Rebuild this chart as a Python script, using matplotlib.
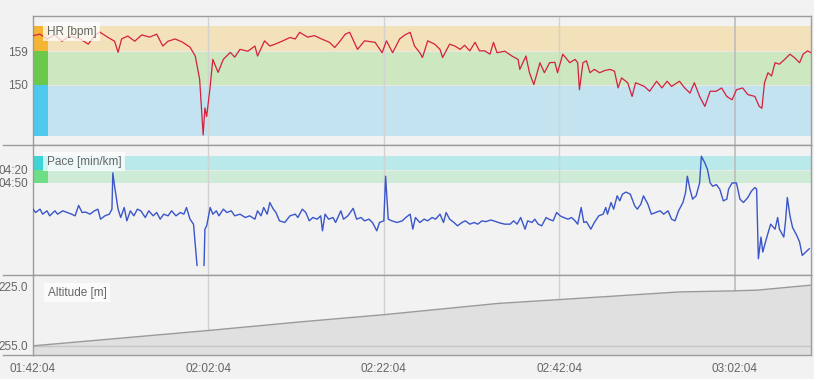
import numpy as np
import matplotlib.pyplot as plt
from matplotlib.lines import Line2D

plt.rcParams['font.family'] = ['Liberation Sans', 'DejaVu Sans']

## time axis (elapsed minutes, labelled with clock time)
t_end = 88.7
time_ticks = [0, 20, 40, 60, 80]
time_labels = ['01:42:04', '02:02:04', '02:22:04', '02:42:04', '03:02:04']

## heart rate (minute, bpm)
hr_points = [
    (0.0, 163.2), (0.8, 163.6), (1.6, 162.3), (2.5, 163.4), (3.3, 161.7), (4.2, 163.1), (5.4, 162.3),
    (6.3, 160.9), (7.1, 163.4), (7.6, 164.2), (8.5, 162.8), (9.3, 161.7), (9.7, 158.7), (10.1, 162.3),
    (10.8, 163.1), (11.6, 161.7), (12.4, 163.4), (13.3, 162.8), (14.1, 163.6), (14.8, 160.4), (15.4, 161.7),
    (16.2, 162.3), (17.0, 161.5), (17.9, 160.1), (18.5, 157.7), (19.0, 151.4), (19.4, 136.4), (19.6, 143.7),
    (19.8, 141.4), (20.2, 149.5), (20.5, 156.8), (21.1, 153.3), (21.7, 156.8), (22.5, 158.7), (23.0, 157.4),
    (23.6, 159.5), (24.5, 159.0), (25.3, 160.4), (25.6, 157.7), (26.4, 161.8), (27.0, 160.4), (27.6, 160.9),
    (28.4, 161.7), (29.3, 162.7), (29.9, 162.3), (30.4, 164.1), (31.3, 162.8), (32.1, 163.2), (32.9, 162.3),
    (33.8, 161.4), (34.4, 160.0), (35.0, 161.7), (35.6, 163.6), (36.1, 164.1), (37.0, 159.5), (37.8, 161.8),
    (39.0, 161.4), (39.8, 158.6), (40.3, 161.8), (41.0, 158.6), (41.8, 162.3), (42.4, 163.4), (43.0, 164.1),
    (43.5, 160.4), (44.1, 158.6), (44.4, 157.3), (45.0, 161.8), (45.8, 160.9), (46.4, 159.5), (46.7, 157.3),
    (47.5, 160.9), (48.1, 160.4), (48.7, 159.5), (49.2, 160.6), (49.8, 159.1), (50.4, 161.4), (50.9, 159.1),
    (51.5, 159.1), (52.1, 158.2), (52.5, 161.4), (52.9, 158.6), (53.8, 159.0), (54.6, 157.7), (55.3, 156.8),
    (55.5, 154.1), (56.2, 157.7), (56.6, 153.2), (57.1, 150.0), (57.8, 155.9), (58.3, 153.2), (58.9, 155.9),
    (59.5, 156.0), (59.8, 153.2), (60.4, 158.2), (61.2, 155.9), (61.8, 156.8), (62.1, 155.9), (62.3, 148.6),
    (62.7, 155.9), (63.1, 156.4), (63.5, 153.2), (64.0, 154.1), (64.6, 153.2), (65.2, 153.8), (65.8, 154.1),
    (66.3, 153.6), (66.7, 149.1), (67.1, 151.8), (67.8, 150.5), (68.3, 146.8), (68.7, 150.5), (69.2, 150.0),
    (69.7, 149.5), (70.3, 148.2), (71.1, 150.9), (71.7, 149.1), (72.3, 150.9), (72.8, 149.5), (73.7, 150.9),
    (74.3, 149.1), (74.9, 147.7), (75.4, 150.5), (76.0, 146.8), (76.6, 144.1), (77.2, 148.2), (77.9, 148.2),
    (78.5, 149.1), (79.1, 146.8), (79.7, 145.9), (80.2, 148.6), (80.9, 149.1), (81.5, 147.3), (82.3, 146.8),
    (82.8, 144.1), (83.1, 143.6), (83.4, 150.5), (83.8, 153.2), (84.2, 152.3), (84.6, 155.9), (85.1, 155.5),
    (85.7, 156.8), (86.3, 158.2), (86.8, 157.3), (87.4, 155.9), (87.8, 158.2), (88.3, 159.1), (88.7, 158.6),
]
hr_zone_edges = [136.2, 150, 159, 165.8]
hr_ticks = [150, 159]

## pace (minute, seconds per km); nan = pause
pace_points = [
    (0.0, 354), (0.3, 362), (0.8, 354), (1.1, 366), (1.6, 358), (1.9, 370), (2.5, 358), (2.8, 366),
    (3.4, 358), (3.9, 362), (4.4, 366), (4.8, 370), (5.2, 345), (5.6, 362), (6.0, 361), (6.5, 366),
    (7.0, 358), (7.4, 354), (7.7, 378), (8.2, 370), (8.7, 366), (9.0, 354), (9.1, 267), (9.3, 299),
    (9.7, 354), (10.0, 374), (10.4, 350), (10.7, 382), (11.1, 358), (11.5, 370), (11.9, 354), (12.3, 358),
    (12.8, 374), (13.2, 358), (13.7, 370), (14.1, 362), (14.5, 378), (14.9, 366), (15.4, 370), (15.8, 358),
    (16.3, 370), (16.8, 362), (17.2, 366), (17.5, 350), (17.9, 378), (18.3, 390), (18.7, 489), (19.1, np.nan),
    (19.5, 489), (19.6, 402), (19.8, 394), (20.2, 350), (20.5, 366), (20.9, 358), (21.2, 370), (21.7, 354),
    (22.1, 362), (22.6, 358), (23.0, 370), (23.6, 366), (24.2, 374), (24.7, 370), (25.3, 378), (25.6, 358),
    (26.0, 370), (26.3, 350), (26.7, 366), (27.0, 338), (27.4, 354), (27.7, 362), (28.1, 382), (28.7, 386),
    (29.3, 370), (29.9, 366), (30.2, 374), (30.7, 354), (31.1, 362), (31.5, 382), (31.9, 374), (32.4, 378),
    (32.8, 370), (33.0, 406), (33.3, 366), (33.7, 378), (34.2, 374), (34.5, 386), (35.1, 358), (35.4, 378),
    (35.9, 370), (36.5, 352), (36.9, 378), (37.4, 374), (37.8, 382), (38.3, 378), (38.7, 386), (39.2, 406),
    (39.5, 386), (40.0, 382), (40.2, 275), (40.5, 378), (40.9, 382), (41.5, 386), (42.1, 382), (42.5, 374),
    (43.0, 366), (43.3, 402), (43.6, 374), (44.1, 386), (44.6, 378), (45.0, 382), (45.5, 374), (45.9, 378),
    (46.4, 366), (46.8, 386), (47.1, 362), (47.5, 378), (48.0, 386), (48.4, 394), (48.9, 386), (49.3, 382),
    (49.8, 390), (50.3, 386), (50.7, 390), (51.2, 382), (51.6, 384), (52.2, 380), (52.8, 384), (53.2, 387),
    (53.8, 390), (54.4, 390), (54.8, 382), (55.2, 390), (55.6, 374), (56.1, 402), (56.4, 382), (56.9, 386),
    (57.2, 378), (57.6, 390), (58.0, 394), (58.5, 374), (58.8, 378), (59.3, 382), (59.7, 362), (60.1, 370),
    (60.5, 374), (61.0, 378), (61.4, 374), (61.8, 382), (62.1, 390), (62.5, 350), (62.8, 386), (63.1, 384),
    (63.6, 402), (64.0, 386), (64.5, 370), (65.0, 366), (65.3, 350), (65.5, 366), (65.9, 338), (66.2, 354),
    (66.6, 322), (66.9, 334), (67.2, 318), (67.6, 313), (68.1, 318), (68.6, 346), (68.9, 354), (69.3, 342),
    (69.6, 322), (70.1, 342), (70.5, 366), (71.0, 362), (71.5, 358), (71.9, 366), (72.4, 358), (72.8, 378),
    (73.2, 382), (73.6, 358), (74.1, 338), (74.4, 314), (74.6, 275), (74.9, 306), (75.2, 330), (75.6, 322),
    (76.0, 291), (76.2, 227), (76.6, 243), (76.9, 259), (77.2, 291), (77.5, 299), (77.9, 295), (78.3, 306),
    (78.7, 334), (79.1, 330), (79.3, 306), (79.7, 291), (80.2, 291), (80.6, 330), (81.0, 338), (81.5, 326),
    (81.9, 311), (82.3, 302), (82.5, 306), (82.7, 473), (83.0, 421), (83.2, 457), (83.6, 426), (84.1, 390),
    (84.6, 402), (84.9, 374), (85.1, 402), (85.6, 421), (85.8, 382), (86.0, 326), (86.3, 370), (86.6, 398),
    (87.1, 418), (87.4, 433), (87.7, 465), (88.1, 457), (88.5, 449),
]
pace_zone_edges = [226, 260, 290]
pace_ticks = [260, 290]
pace_labels = ['04:20', '04:50']

## altitude (minute, m)
alt_points = [(0.0, 255.0), (20.2, 247.2), (30.4, 243.0), (40.1, 239.3), (53.0, 233.7),
              (60.2, 231.7), (73.7, 227.9), (79.7, 227.4), (82.6, 227.0), (88.7, 224.5)]
alt_ticks = [225, 255]
alt_labels = ['225.0', '255.0']

hr_t, hr_v = np.array(hr_points).T
pace_t, pace_v = np.array(pace_points, dtype=float).T
alt_t, alt_v = np.array(alt_points).T

## styling
bg = '#f2f2f2'
frame = '#9c9c9c'
txt = '#666666'
fs = 8.5

fig = plt.figure(figsize=(8.14, 3.79), dpi=100, facecolor=bg)
W, H = 814, 379
left, right = 33, 811

def panel(top, bottom):
    ax = fig.add_axes([left / W, 1 - bottom / H, (right - left) / W, (bottom - top) / H])
    ax.set_facecolor(bg)
    for s in ax.spines.values():
        s.set_color(frame)
        s.set_linewidth(1)
    ax.set_xlim(0, t_end)
    ax.set_xticks(time_ticks)
    ax.tick_params(length=0, colors=txt, labelsize=fs, pad=3.5)
    for i, t in enumerate(time_ticks[1:]):
        ax.axvline(t, color='#bdbdbd' if i == 3 else '#d2d2d2', lw=1.2 if i == 3 else 1, zorder=1.5)
    return ax

def label_box(ax, x, y, s):
    ax.text(x, y, s, transform=ax.transAxes, ha='left', va='center', fontsize=fs, color=txt, zorder=10,
            bbox=dict(boxstyle='square,pad=0.3', fc='white', ec='none', alpha=0.75))

bar_w = 15 / (right - left)

## HR panel
ax1 = panel(16, 145)
ax1.set_ylim(133.7, 168.5)
hr_pale = ['#c2e3ef', '#cde7c0', '#f3e1b9']
hr_strong = ['#4cc9ec', '#6bc84a', '#f5b433']
for lo, hi, pc, sc in zip(hr_zone_edges[:-1], hr_zone_edges[1:], hr_pale, hr_strong):
    ax1.axhspan(lo, hi, color=pc, lw=0, zorder=1)
    ax1.axhspan(lo, hi, xmin=0, xmax=bar_w, color=sc, lw=0, zorder=2)
for y in hr_ticks:
    ax1.axhline(y, color='#e6e9e2', lw=0.8, zorder=1.2)
ax1.plot(hr_t, hr_v, color='#d5203e', lw=0.9, zorder=3)
ax1.set_yticks(hr_ticks)
ax1.set_xticklabels([])
label_box(ax1, 0.018, 0.878, 'HR [bpm]')

## pace panel (faster at top)
ax2 = panel(145, 275)
ax2.set_ylim(512, 200)
pace_pale = ['#b9e9ea', '#cdebd6']
pace_strong = ['#3ed3d6', '#6fdd86']
for lo, hi, pc, sc in zip(pace_zone_edges[:-1], pace_zone_edges[1:], pace_pale, pace_strong):
    ax2.axhspan(lo, hi, color=pc, lw=0, zorder=1)
    ax2.axhspan(lo, hi, xmin=0, xmax=bar_w, color=sc, lw=0, zorder=2)
ax2.axhline(pace_zone_edges[1], color='#e6eeea', lw=0.8, zorder=1.2)
ax2.plot(pace_t, pace_v, color='#3a56c9', lw=1.0, zorder=3)
ax2.set_yticks(pace_ticks)
ax2.set_yticklabels(pace_labels)
ax2.set_xticklabels([])
label_box(ax2, 0.018, 0.872, 'Pace [min/km]')

## altitude panel
ax3 = panel(275, 355)
ax3.set_ylim(259.6, 219.4)
ax3.fill_between(alt_t, alt_v, 259.6, color='#e0e0e0', lw=0, zorder=2)
ax3.axhline(alt_ticks[1], color='#c6c6c6', lw=1, zorder=2.5)
ax3.plot(alt_t, alt_v, color='#9a9a9a', lw=1, zorder=3)
ax3.set_yticks(alt_ticks)
ax3.set_yticklabels(alt_labels)
ax3.set_xticklabels(time_labels)
ax3.tick_params(axis='x', pad=6)
label_box(ax3, 0.019, 0.781, 'Altitude [m]')

## separators running into the left margin
for y in (145, 275, 355):
    fig.add_artist(Line2D([3 / W, left / W], [1 - y / H, 1 - y / H], color=frame, lw=1))

fig.savefig('out.png', dpi=100, facecolor=bg)
